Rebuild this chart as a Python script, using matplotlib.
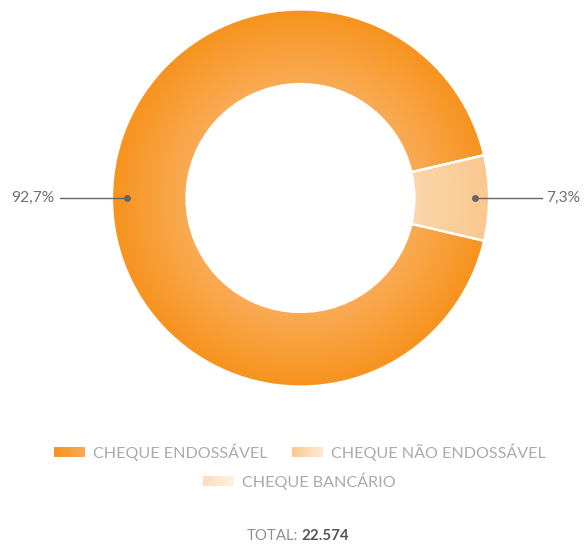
import matplotlib.pyplot as plt
import matplotlib.colors as mcolors
import numpy as np

# data
categories = ['CHEQUE ENDOSSÁVEL', 'CHEQUE NÃO ENDOSSÁVEL', 'CHEQUE BANCÁRIO']
shares = [92.7, 7.3, 0.0]
pct_labels = ['92,7%', '7,3%', '']
total_label = '22.574'

# gradient colours (inner -> outer) for each slice, and for the legend swatches
ring_colors = [('#F9AB55', '#F7931E'), ('#FBD6AA', '#FAC88F'), ('#FCE3C8', '#FDEBD6')]
swatch_colors = [('#F7931E', '#F9AA52'), ('#FBC88C', '#FDEBD6'), ('#FCDDBE', '#FDF1E4')]

plt.rcParams['font.family'] = ['Lato', 'DejaVu Sans']

W, H = 587, 548
fig = plt.figure(figsize=(W / 100, H / 100), dpi=100)
ax = fig.add_axes([0, 0, 1, 1])

cx, cy = 300.5, H - 198
r_out, r_in = 188.5, 114

start = shares[1] / 2 * 3.6  # small slice centred on the right
wedges, _ = ax.pie(shares, radius=r_out, center=(cx, cy), startangle=start,
                   counterclock=True, wedgeprops=dict(width=r_out - r_in, linewidth=0))

# radial gradient, clipped to each wedge
xx, yy = np.meshgrid(np.linspace(cx - r_out, cx + r_out, 400),
                     np.linspace(cy - r_out, cy + r_out, 400))
rr = np.clip((np.hypot(xx - cx, yy - cy) - r_in) / (r_out - r_in), 0, 1)
for w, (c_in, c_out) in zip(wedges, ring_colors):
    cmap = mcolors.LinearSegmentedColormap.from_list('g', [c_in, c_out])
    im = ax.imshow(rr, cmap=cmap, extent=(cx - r_out, cx + r_out, cy - r_out, cy + r_out),
                   origin='lower', vmin=0, vmax=1, zorder=1, interpolation='bilinear')
    im.set_clip_path(w)
    w.set_facecolor('none')
    w.set_edgecolor('white')
    w.set_linewidth(1.6)
    w.set_zorder(2)

# percentage labels with leader lines
r_dot = 174
for w, lab in zip(wedges, pct_labels):
    if not lab:
        continue
    ang = np.deg2rad((w.theta1 + w.theta2) / 2)
    side = 1 if np.cos(ang) > 0 else -1
    x0, y0 = cx + r_dot * np.cos(ang), cy + r_dot * np.sin(ang)
    x1 = x0 + side * 67
    ax.plot([x0, x1], [y0, y0], color='#666666', lw=1, zorder=3)
    ax.plot(x0, y0, 'o', color='#666666', ms=4, zorder=3)
    ax.text(x1 + side * 5, y0, lab, ha='left' if side > 0 else 'right', va='center',
            fontsize=11.2, color='#707070')

# legend (gradient swatches)
legend_pos = [(54, 452), (292, 452), (203, 481)]
grad = np.linspace(0, 1, 50).reshape(1, -1)
for (x, y), name, (c0, c1) in zip(legend_pos, categories, swatch_colors):
    cmap = mcolors.LinearSegmentedColormap.from_list('s', [c0, c1])
    ax.imshow(grad, cmap=cmap, extent=(x, x + 31, H - y - 5, H - y + 5), aspect='auto', zorder=1)
    ax.text(x + 39, H - y, name, ha='left', va='center', fontsize=11.6,
            color='#ababab')

ax.text(298, H - 536, 'TOTAL:', ha='right', va='center', fontsize=10.8,
        color='#909090')
ax.text(301, H - 536, total_label, ha='left', va='center', fontsize=10.8,
        color='#555555', fontweight='bold')

ax.set_xlim(0, W)
ax.set_ylim(0, H)
ax.set_aspect('auto')
ax.axis('off')

fig.savefig('out.png', dpi=100)
